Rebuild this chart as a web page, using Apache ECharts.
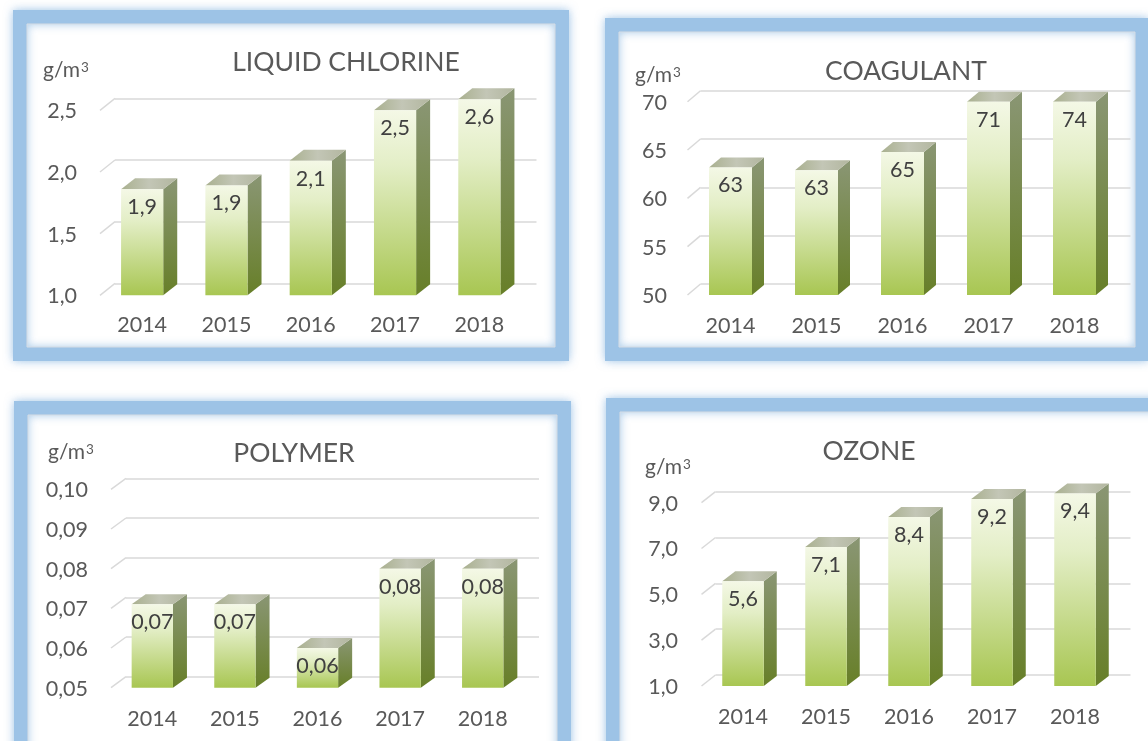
<!DOCTYPE html>
<html>
<head>
<meta charset="utf-8">
<script src="https://cdn.jsdelivr.net/npm/echarts@6/dist/echarts.min.js"></script>
<style>
html,body{margin:0;padding:0;background:#fff;}
#c{width:1148px;height:741px;}
</style>
</head>
<body>
<div id="c"></div>
<script>
// ---------- data ----------
const categories = ['2014', '2015', '2016', '2017', '2018'];
const chlorineValues = [1.86, 1.89, 2.09, 2.50, 2.59];
const coagulantValues = [63.2, 62.9, 64.8, 71, 74];
const polymerValues = [0.071, 0.071, 0.060, 0.080, 0.080];
const ozoneValues = [5.57, 7.07, 8.38, 9.16, 9.40];
const chlorineTicks = [1.0, 1.5, 2.0, 2.5];
const coagulantTicks = [50, 55, 60, 65, 70];
const polymerTicks = [0.05, 0.06, 0.07, 0.08, 0.09, 0.10];
const ozoneTicks = [1.0, 3.0, 5.0, 7.0, 9.0];
const titles = ['LIQUID CHLORINE', 'COAGULANT', 'POLYMER', 'OZONE'];
const unitBase = 'g/m';
const unitSup = '3';

// ---------- layout ----------
const FONT = 'Lato';
const LABEL_SIZE = 21.5;
const panels = [
  {title: titles[0], values: chlorineValues, ticks: chlorineTicks, dec: 1,
   grid: {left: 115, top: 98.3, width: 421.5, height: 185}, dx: 15, dy: 12,
   labelRight: 77, titlePos: [346, 62], unitPos: [43, 70], clipMax: Infinity,
   frame: [20, 17, 542, 337]},
  {title: titles[1], values: coagulantValues, ticks: coagulantTicks, dec: 0,
   grid: {left: 700.5, top: 90.7, width: 430, height: 193.3}, dx: 13, dy: 11,
   labelRight: 667, titlePos: [906, 71], unitPos: [635, 75], clipMax: 70,
   frame: [612, 25, 530, 329]},
  {title: titles[2], values: polymerValues, ticks: polymerTicks, dec: 2,
   grid: {left: 126, top: 478.3, width: 413, height: 198.4}, dx: 15, dy: 11,
   labelRight: 88, titlePos: [294, 453], unitPos: [48, 452], clipMax: Infinity,
   frame: [21, 408, 543, 420]},
  {title: titles[3], values: ozoneValues, ticks: ozoneTicks, dec: 1,
   grid: {left: 715.5, top: 491.7, width: 415, height: 183.3}, dx: 14, dy: 11,
   labelRight: 678, titlePos: [869, 451], unitPos: [645, 467], clipMax: Infinity,
   frame: [613, 405, 620, 420]}
];

function fmt(v, d) { return Number(v).toFixed(d).replace('.', ','); }

const frontGrad = {type: 'linear', x: 0, y: 0, x2: 0, y2: 1, colorStops: [
  {offset: 0, color: '#f4f8e6'}, {offset: 0.3, color: '#e3eec6'}, {offset: 1, color: '#a8c652'}]};
const sideGrad = {type: 'linear', x: 0, y: 0, x2: 0, y2: 1, colorStops: [
  {offset: 0, color: '#8a9674'}, {offset: 1, color: '#677f28'}]};
const topGrad = {type: 'linear', x: 0, y: 0, x2: 1, y2: 0, colorStops: [
  {offset: 0, color: '#a9b08f'}, {offset: 0.5, color: '#c3c6b6'}, {offset: 1, color: '#b2b69f'}]};

const grids = [], xAxes = [], yAxes = [], series = [], graphics = [];

panels.forEach((p, i) => {
  const t = p.ticks;
  grids.push({left: p.grid.left, top: p.grid.top, width: p.grid.width, height: p.grid.height,
              containLabel: false, outerBoundsMode: 'none'});
  xAxes.push({type: 'category', gridIndex: i, data: categories,
    axisLine: {show: false}, axisTick: {show: false}, splitLine: {show: false},
    axisLabel: {margin: 42, verticalAlign: 'middle', padding: [0, 2 * p.dx, 0, 0],
      color: '#595959', fontSize: LABEL_SIZE, fontFamily: FONT}});
  yAxes.push({type: 'value', gridIndex: i, min: t[0], max: t[t.length - 1],
    interval: +(t[1] - t[0]).toFixed(6),
    axisLine: {show: false}, axisTick: {show: false},
    splitLine: {show: true, lineStyle: {color: '#d9d9d9', width: 1.5}},
    axisLabel: {show: false}});

  // diagonal wall ticks + tick labels on the front plane
  series.push({type: 'custom', xAxisIndex: i, yAxisIndex: i, silent: true, clip: false,
    data: t.map(v => [0, v]),
    renderItem: (params, api) => {
      const val = api.value(1);
      const pt = api.coord([0, val]);
      const x0 = params.coordSys.x;
      return {type: 'group', children: [
        {type: 'line', shape: {x1: x0 - p.dx, y1: pt[1] + p.dy, x2: x0, y2: pt[1]},
          style: {stroke: '#d9d9d9', lineWidth: 1.5}},
        {type: 'text', style: {text: fmt(val, p.dec), x: p.labelRight, y: pt[1] + p.dy + 1,
          textAlign: 'right', textVerticalAlign: 'middle', align: 'right', verticalAlign: 'middle',
          fontSize: LABEL_SIZE, fontFamily: FONT, fill: '#595959'}}
      ]};
    }});

  // 3D bars
  series.push({type: 'custom', xAxisIndex: i, yAxisIndex: i, clip: false,
    data: p.values.map((v, j) => [j, v]),
    renderItem: (params, api) => {
      const idx = api.value(0);
      const raw = api.value(1);
      const v = Math.min(raw, p.clipMax);
      const back = api.coord([idx, v]);
      const base = api.coord([idx, t[0]]);
      const band = api.size([1, 0])[0];
      const w = band * 0.5;
      const cx = back[0] - p.dx;
      const xl = cx - w / 2, xr = cx + w / 2;
      const yt = back[1] + p.dy, yb = base[1] + p.dy;
      const bdx = p.dx - 1, bdy = p.dy - 1;
      return {type: 'group', children: [
        {type: 'polygon', shape: {points: [[xr, yt], [xr + bdx, yt - bdy], [xr + bdx, yb - bdy], [xr, yb]]},
          style: {fill: sideGrad}},
        {type: 'polygon', shape: {points: [[xl, yt], [xr, yt], [xr + bdx, yt - bdy], [xl + bdx, yt - bdy]]},
          style: {fill: topGrad}},
        {type: 'rect', shape: {x: xl, y: yt, width: w, height: yb - yt},
          style: {fill: frontGrad}},
        {type: 'text', style: {text: fmt(raw, p.dec), x: cx, y: yt + 18,
          textAlign: 'center', textVerticalAlign: 'middle', align: 'center', verticalAlign: 'middle',
          fontSize: LABEL_SIZE, fontFamily: FONT, fill: '#404040'}}
      ]};
    }});

  // frame
  const f = p.frame;
  graphics.push({type: 'rect', z: -10, shape: {x: f[0], y: f[1], width: f[2], height: f[3]},
    style: {fill: '#ffffff', stroke: '#9dc3e6', lineWidth: 14,
      shadowBlur: 10, shadowColor: 'rgba(91,155,213,0.55)'}});
  graphics.push({type: 'rect', z: -9, shape: {x: f[0] + 7, y: f[1] + 7, width: f[2] - 14, height: f[3] - 14},
    style: {fill: 'none', stroke: '#d6dde5', lineWidth: 1}});
  // title & unit
  graphics.push({type: 'text', z: 5, style: {text: p.title, x: p.titlePos[0], y: p.titlePos[1],
    textAlign: 'center', textVerticalAlign: 'middle', align: 'center', verticalAlign: 'middle',
    fontSize: 26.5, fontFamily: FONT, fill: '#595959'}});
  graphics.push({type: 'text', z: 5, style: {
    text: '{b|' + unitBase + '}{s|' + unitSup + '}', x: p.unitPos[0], y: p.unitPos[1],
    textAlign: 'left', textVerticalAlign: 'middle', align: 'left', verticalAlign: 'middle',
    fontSize: 21, fontFamily: FONT, fill: '#595959',
    rich: {
      b: {fontSize: 21, fontFamily: FONT, fill: '#595959', color: '#595959'},
      s: {fontSize: 13.5, fontFamily: FONT, fill: '#595959', color: '#595959', verticalAlign: 'top', padding: [1, 0, 0, 1]}
    }}});
});

const chart = echarts.init(document.getElementById('c'), null, {renderer: 'canvas'});
chart.setOption({
  backgroundColor: '#ffffff',
  animation: false,
  grid: grids,
  xAxis: xAxes,
  yAxis: yAxes,
  series: series,
  graphic: {elements: graphics}
});
</script>
</body>
</html>
